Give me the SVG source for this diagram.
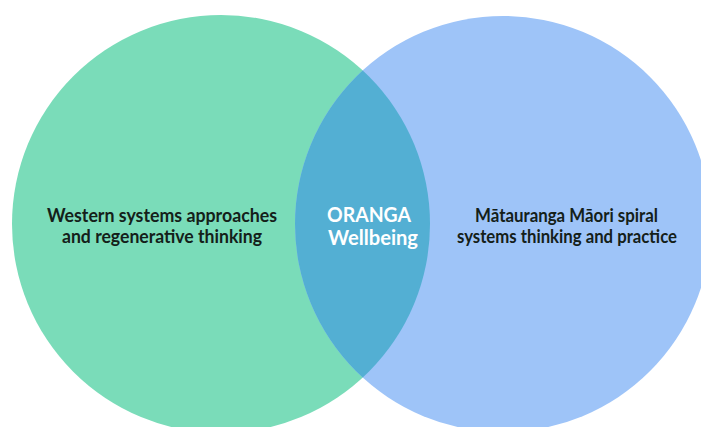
<svg xmlns="http://www.w3.org/2000/svg" width="701" height="427" viewBox="0 0 701 427">
<style>
.t{font-family:Lato,"Open Sans","Liberation Sans",sans-serif;font-weight:bold;font-size:19px;text-anchor:middle}
.d{fill:#142019}
.w{fill:#ffffff;font-size:20px}
</style>
<defs>
<clipPath id="clipL"><circle cx="221" cy="224" r="209"/></clipPath>
</defs>
<rect width="701" height="427" fill="#ffffff"/>
<g id="left">
<circle cx="221" cy="224" r="209" fill="#7adcb9"/>
</g>
<g id="right">
<circle cx="503" cy="224" r="208" fill="#9ec4f8"/>
</g>
<g id="overlap">
<circle cx="503" cy="224" r="208" fill="#53afd3" clip-path="url(#clipL)"/>
</g>
<g id="labels">
<text class="t d" x="162" y="222" textLength="230" lengthAdjust="spacingAndGlyphs">Western systems approaches</text>
<text class="t d" x="162" y="243" textLength="200" lengthAdjust="spacingAndGlyphs">and regenerative thinking</text>
<text class="t w" x="369" y="222" textLength="84" lengthAdjust="spacingAndGlyphs">ORANGA</text>
<text class="t w" x="373" y="245" textLength="90" lengthAdjust="spacingAndGlyphs">Wellbeing</text>
<text class="t d" x="566.5" y="222" textLength="183" lengthAdjust="spacingAndGlyphs">Mātauranga Māori spiral</text>
<text class="t d" x="567" y="243" textLength="220" lengthAdjust="spacingAndGlyphs">systems thinking and practice</text>
</g>
</svg>
